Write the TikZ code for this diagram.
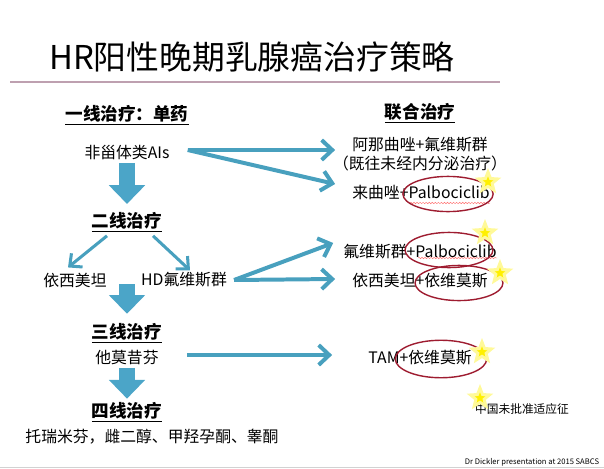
\documentclass[tikz,border=0pt]{standalone}
\usepackage{fontspec}
\setmainfont{Noto Sans CJK SC}
\usetikzlibrary{arrows.meta,calc,shapes.geometric,decorations.pathmorphing}
\definecolor{arrowteal}{RGB}{72,160,190}
\definecolor{blockblue}{RGB}{75,165,200}
\definecolor{ringred}{RGB}{158,28,48}
\definecolor{rulepink}{RGB}{190,160,176}
\definecolor{staryellow}{RGB}{255,240,0}
\begin{document}
\begin{tikzpicture}[x=0.03cm, y=-0.03cm]
            \tikzset{
                body-text/.style = {inner sep=0pt, font=\fontsize{13.5}{16}\selectfont},
                head-text/.style = {inner sep=0pt, font=\fontsize{15}{18}\selectfont\bfseries},
                thin-arrow/.style = {
                    arrowteal, line width=3.4pt,
                    -{Straight Barb[length=9pt, width=17pt]}},
                diag-arrow/.style = {
                    arrowteal, line width=2.6pt,
                    -{Straight Barb[length=8pt, width=15pt]}},
                block-arrow/.style = {
                    blockblue, line width=13.5pt,
                    -{Triangle[length=16pt, width=30pt]}},
                red-ring/.style = {draw=ringred, line width=1.2pt, ellipse, inner sep=0pt},
                yellow-star/.style = {
                    star, star points=5, star point ratio=2.3, minimum size=17pt,
                    inner sep=0pt, fill=staryellow, draw=staryellow!40, line width=2.5pt},
                squiggle/.style = {
                    draw=red!55, line width=0.4pt, decorate,
                    decoration={snake, amplitude=0.6pt, segment length=2.6pt}}
            }

            \useasboundingbox (0, 0) rectangle (604, 469);

            \node[inner sep=0pt, font=\fontsize{28}{33}\selectfont] (title) at (252, 57) {HR阳性晚期乳腺癌治疗策略};
            \draw[rulepink, line width=1.8pt] (10, 82) -- (500, 82);

            \node[head-text] (l1) at (127, 115) {\underline{一线治疗：单药}};
            \node[body-text] (ai) at (127, 153) {非甾体类AIs};
            \node[head-text] (l2) at (127, 222) {\underline{二线治疗}};
            \node[body-text] (exe) at (75, 280) {依西美坦};
            \node[body-text] (hd) at (184, 280) {HD氟维斯群};
            \coordinate (fork) at (127, 284);
            \node[head-text] (l3) at (127, 333) {\underline{三线治疗}};
            \node[body-text] (tmx) at (127, 358) {他莫昔芬};
            \node[head-text] (l4) at (127, 412) {\underline{四线治疗}};
            \node[body-text] (last) at (152, 437) {托瑞米芬，雌二醇、甲羟孕酮、睾酮};

            \node[head-text] (comb) at (420, 113) {\underline{联合治疗}};
            \node[body-text] (ana) at (420, 145) {阿那曲唑+氟维斯群};
            \node[body-text] (ana2) at (420, 163) {（既往未经内分泌治疗）};
            \node[body-text] (lq) at (421, 192) {来曲唑+Palbociclib};
            \node[body-text] (fp) at (420, 252) {氟维斯群+Palbociclib};
            \node[body-text] (ee) at (420, 281) {依西美坦+依维莫斯};
            \node[body-text] (te) at (420, 358) {TAM+依维莫斯};
            \node[inner sep=0pt, font=\fontsize{10}{12}\selectfont] (note) at (522, 409) {中国未批准适应征};
            \node[inner sep=0pt, font=\fontsize{6.5}{8}\selectfont] (credit) at (532, 462) {Dr Dickler presentation at 2015 SABCS};

            \draw[block-arrow, shorten <=2pt, shorten >=7pt] (ai) -- (l2);
            \draw[block-arrow, shorten >=8pt] (fork) -- (l3);
            \draw[block-arrow, shorten <=2pt, shorten >=3pt] (tmx) -- (l4);

            \draw[diag-arrow] ($(l2.south)+(-20, 4)$) -- ($(exe.north)+(-7, -5)$);
            \draw[diag-arrow] ($(l2.south)+(26, 4)$) -- ($(hd.north)+(6, -2)$);

            \draw[thin-arrow] ($(ai.east)+(18, -3)$) -- ($(ana.west |- ai.east)+(-17, -3)$);
            \draw[thin-arrow] ($(ai.east)+(18, -3)$) -- ($(lq.west)+(-17, -8)$);
            \draw[thin-arrow] ($(hd.east)+(7, 0)$) -- ($(fp.west)+(-10, -9)$);
            \draw[thin-arrow] ($(hd.east)+(7, 0)$) -- ($(ee.west)+(-17, -2)$);
            \draw[thin-arrow] ($(tmx.east)+(28, -3)$) -- ($(te.west)+(-36, -3)$);

            \draw[squiggle] (410, 203) -- (490, 203);
            \draw[squiggle] (418, 258) -- (497, 258);

            \node[red-ring, minimum width=77pt, minimum height=30pt] (r1) at (448, 194) {};
            \node[red-ring, minimum width=75pt, minimum height=30pt] (r2) at (449, 250) {};
            \node[red-ring, minimum width=75pt, minimum height=30pt] (r3) at (459, 283) {};
            \node[red-ring, minimum width=78pt, minimum height=32pt] (r4) at (441, 359) {};

            \node[yellow-star] (s1) at (488, 182) {};
            \node[yellow-star] (s2) at (485, 233) {};
            \node[yellow-star] (s3) at (500, 273) {};
            \node[yellow-star] (s4) at (482, 352) {};
            \node[yellow-star] (s5) at (480, 398) {};

            \draw[gray!35, line width=0.8pt] (0, 467) -- (604, 467);
        \end{tikzpicture}
\end{document}
